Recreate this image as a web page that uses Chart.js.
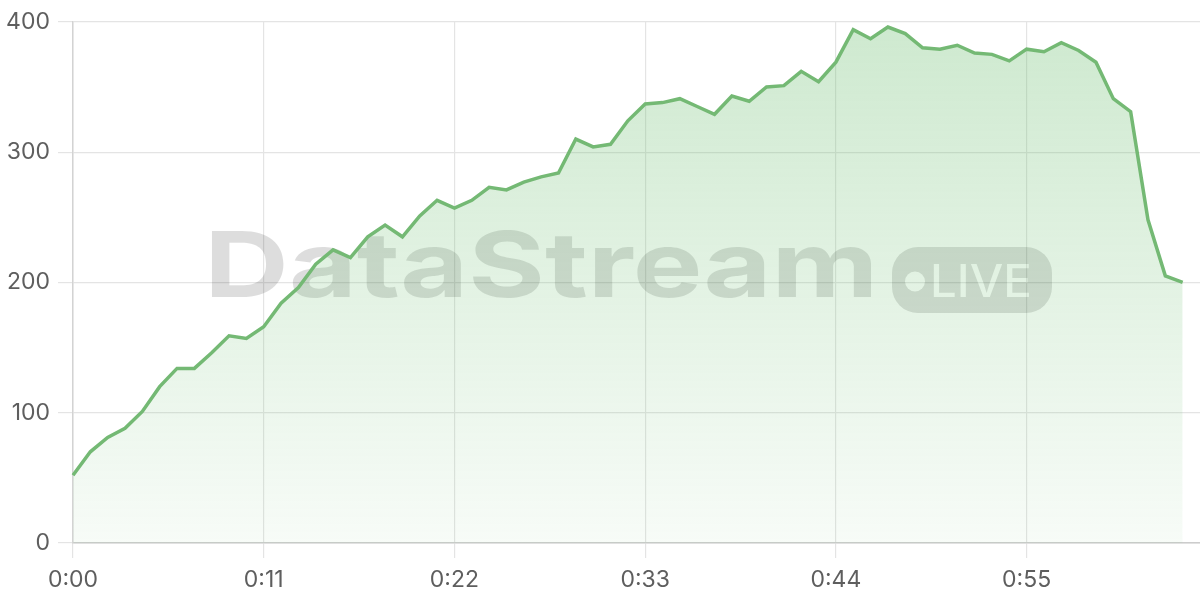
<!DOCTYPE html>
<html>
<head>
<meta charset="utf-8">
<script src="https://cdn.jsdelivr.net/npm/chart.js@4"></script>
<style>
  html, body { margin: 0; padding: 0; background: #ffffff; }
  #wrap { width: 1200px; height: 600px; position: relative; }
</style>
</head>
<body>
<div id="wrap"><canvas id="c" width="1200" height="600"></canvas></div>
<script>
// ---- data ----
const seconds = [];
for (let s = 0; s <= 65; s++) seconds.push(s);
const timeLabels = seconds.map(s => Math.floor(s / 60) + ':' + String(s % 60).padStart(2, '0'));
const values = [
  52, 70, 81, 88, 101, 120, 134, 134, 146, 159,
  157, 166, 184, 196, 214, 225, 219, 235, 244, 235,
  251, 263, 257, 263, 273, 271, 277, 281, 284, 310,
  304, 306, 324, 337, 338, 341, 335, 329, 343, 339,
  350, 351, 362, 354, 369, 394, 387, 396, 391, 380,
  379, 382, 376, 375, 370, 379, 377, 384, 378, 369,
  341, 331, 248, 205, 200
];
const yTicks = [0, 100, 200, 300, 400];
const tickEvery = 11;
const watermarkText = 'DataStream';
const badgeText = 'LIVE';

const FONT = 'Inter, "Noto Sans", sans-serif';
const green = 'rgb(116, 185, 116)';

const watermark = {
  id: 'watermark',
  beforeDatasetsDraw(chart) {
    const ctx = chart.ctx;
    ctx.save();
    ctx.font = 'bold 92px ' + FONT;
    ctx.textBaseline = 'alphabetic';
    const m = ctx.measureText(watermarkText);
    const w = m.actualBoundingBoxLeft + m.actualBoundingBoxRight;
    const capH = m.actualBoundingBoxAscent;
    ctx.translate(212, 297);
    ctx.scale(660 / w, 67 / capH);
    ctx.fillStyle = 'rgba(0,0,0,0.135)';
    ctx.fillText(watermarkText, m.actualBoundingBoxLeft, 0);
    ctx.restore();

    // badge with knocked-out dot and text
    const off = document.createElement('canvas');
    off.width = chart.width; off.height = chart.height;
    const o = off.getContext('2d');
    o.fillStyle = '#000';
    o.beginPath();
    o.roundRect(892, 247, 160, 66, 26);
    o.fill();
    o.globalCompositeOperation = 'destination-out';
    o.beginPath();
    o.arc(915, 281.5, 10, 0, Math.PI * 2);
    o.fill();
    o.font = '500 46px ' + FONT;
    const lm = o.measureText(badgeText);
    const lw = lm.actualBoundingBoxLeft + lm.actualBoundingBoxRight;
    const lh = lm.actualBoundingBoxAscent;
    o.save();
    o.translate(933, 297);
    o.scale(96 / lw, 33.5 / lh);
    o.fillText(badgeText, lm.actualBoundingBoxLeft, 0);
    o.restore();
    ctx.save();
    ctx.globalAlpha = 0.135;
    ctx.drawImage(off, 0, 0);
    ctx.restore();
  }
};

new Chart(document.getElementById('c'), {
  type: 'line',
  data: {
    labels: timeLabels,
    datasets: [{
      data: values,
      borderColor: green,
      borderWidth: 3.5,
      pointRadius: 0,
      tension: 0,
      fill: 'origin',
      backgroundColor(ctx) {
        const ca = ctx.chart.chartArea;
        if (!ca) return 'rgba(102,187,106,0.2)';
        const g = ctx.chart.ctx.createLinearGradient(0, ca.top, 0, ca.bottom);
        g.addColorStop(0, 'rgba(102,187,106,0.32)');
        g.addColorStop(1, 'rgba(102,187,106,0.05)');
        return g;
      }
    }]
  },
  options: {
    responsive: false,
    animation: false,
    layout: { padding: { top: 20, right: 0, left: 0, bottom: 0 } },
    plugins: { legend: { display: false }, tooltip: { enabled: false } },
    scales: {
      x: {
        offset: false,
        grid: { color: '#e4e4e4', lineWidth: 1.2, tickLength: 15 },
        border: { color: '#cccccc', width: 1.5 },
        ticks: {
          autoSkip: false,
          maxRotation: 0,
          padding: 8,
          color: '#5e5e5e',
          font: { family: FONT, size: 23 },
          callback(v, i) { return i % tickEvery === 0 ? timeLabels[i] : null; }
        },
        afterFit(scale) { scale.height = 57; }
      },
      y: {
        min: yTicks[0],
        max: yTicks[yTicks.length - 1],
        afterBuildTicks(scale) { scale.ticks = yTicks.map(v => ({ value: v })); },
        grid: { color: '#e4e4e4', lineWidth: 1.2, tickLength: 15 },
        border: { color: '#d3d3d3', width: 1.5 },
        ticks: {
          padding: 8,
          color: '#5e5e5e',
          font: { family: FONT, size: 23 }
        },
        afterFit(scale) { scale.width = 73; }
      }
    }
  },
  plugins: [watermark]
});
</script>
</body>
</html>
